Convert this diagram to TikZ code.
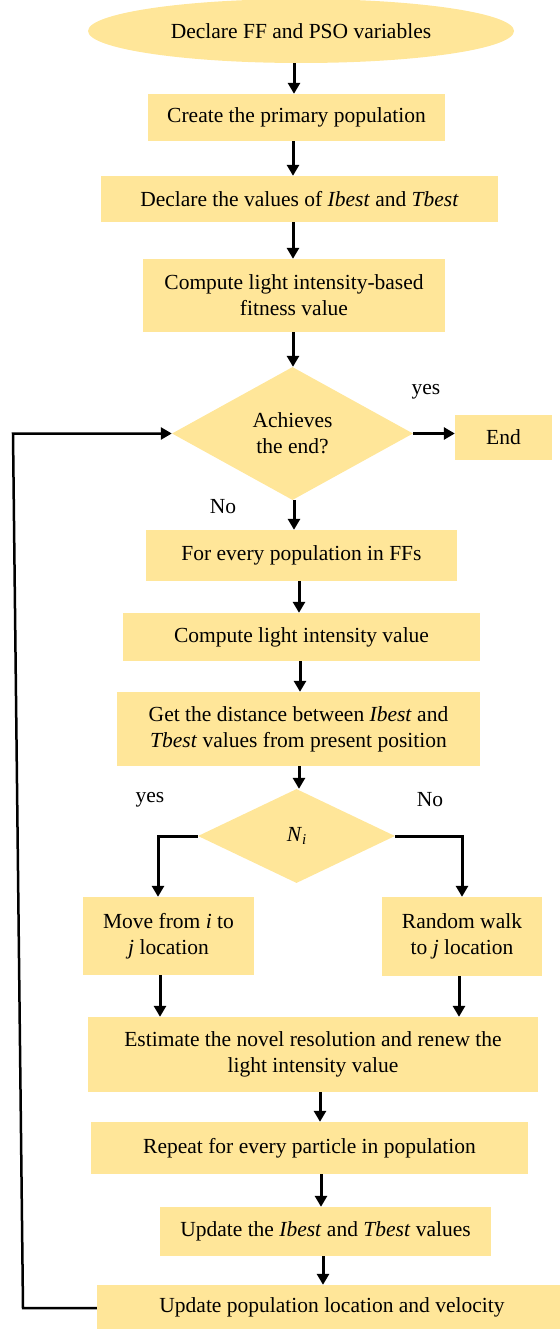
\documentclass[tikz,border=0pt]{standalone}
\usepackage{fontspec}
\setmainfont{Liberation Serif}
\usetikzlibrary{shapes.geometric,arrows.meta}
\definecolor{boxfill}{HTML}{FFE699}
\begin{document}
\begin{tikzpicture}[x=1pt,y=-1pt,
  every node/.style={font=\fontsize{21.5}{26}\selectfont, text=black},
  box/.style={rectangle, fill=boxfill, inner sep=0pt, align=center},
  ell/.style={ellipse, fill=boxfill, inner sep=0pt, align=center},
  dia/.style={diamond, fill=boxfill, inner sep=0pt, align=center, shape aspect=1.8},
  arr/.style={line width=3pt, -{Triangle[length=11pt,width=12pt]}},
  loopline/.style={line width=2.5pt, -{Triangle[length=11pt,width=12pt]}},
  lbl/.style={inner sep=0pt}]
\useasboundingbox (0,0) rectangle (559,1329);

\node[ell, minimum width=426pt, minimum height=64pt] (start) at (301,31) {Declare FF and PSO variables};
\node[box, minimum width=297pt, minimum height=47pt] (create) at (296.5,117.5) {Create the primary population};
\node[box, minimum width=397pt, minimum height=46pt] (declare) at (299.5,199) {Declare the values of \textit{Ibest} and \textit{Tbest}};
\node[box, minimum width=302pt, minimum height=73pt] (comp1) at (294,295.5) {Compute light intensity-based\\fitness value};
\node[dia, minimum width=241pt, minimum height=133pt] (dec1) at (292.5,433.5) {Achieves\\the end?};
\node[box, minimum width=97pt, minimum height=45pt] (end) at (503.5,437.5) {End};
\node[box, minimum width=311pt, minimum height=51pt] (every) at (301.5,555.5) {For every population in FFs};
\node[box, minimum width=357pt, minimum height=48pt] (comp2) at (301.5,637) {Compute light intensity value};
\node[box, minimum width=363pt, minimum height=74pt] (dist) at (298.5,729) {Get the distance between \textit{Ibest} and\\\textit{Tbest} values from present position};
\node[dia, minimum width=197pt, minimum height=94pt] (dec2) at (296.5,836) {\textit{N}\raisebox{-0.35ex}{\fontsize{15}{15}\selectfont\textit{i}}};
\node[box, minimum width=171pt, minimum height=78pt] (move) at (168.5,936) {Move from \textit{i} to\\\textit{j} location};
\node[box, minimum width=160pt, minimum height=79pt] (rand) at (462,936.5) {Random walk\\to \textit{j} location};
\node[box, minimum width=450pt, minimum height=75pt] (est) at (313,1054.5) {Estimate the novel resolution and renew the\\light intensity value};
\node[box, minimum width=437pt, minimum height=52pt] (rep) at (309.5,1148) {Repeat for every particle in population};
\node[box, minimum width=331pt, minimum height=49pt] (upd1) at (325.5,1231.5) {Update the \textit{Ibest} and \textit{Tbest} values};
\node[box, minimum width=472pt, minimum height=80pt] (upd2) at (333,1325) {};
\node[lbl] (upd2t) at (332,1307) {Update population location and velocity};

\node[lbl] (yes1) at (426,392) {yes};
\node[lbl] (no1) at (223,507) {No};
\node[lbl] (yes2) at (150,800) {yes};
\node[lbl] (no2) at (430,800) {No};

\draw[arr] (start.south -| 294,0) -- (create.north -| 294,0);
\draw[arr] (create.south -| 293,0) -- (declare.north -| 293,0);
\draw[arr] (declare.south -| 293,0) -- (comp1.north -| 293,0);
\draw[arr] (comp1.south -| 293,0) -- (dec1.north -| 293,0);
\draw[arr] (dec1.east) -- (dec1.east -| end.west);
\draw[arr] (dec1.south -| 294,0) -- (every.north -| 294,0);
\draw[arr] (every.south -| 299,0) -- (comp2.north -| 299,0);
\draw[arr] (comp2.south -| 300,0) -- (dist.north -| 300,0);
\draw[arr] (dist.south -| 299,0) -- (dec2.north -| 299,0);
\draw[arr] (dec2.west) -| (move.north -| 158,0);
\draw[arr] (dec2.east) -| (rand.north);
\draw[arr] (move.south -| 160,0) -- (est.north -| 160,0);
\draw[arr] (rand.south -| 459,0) -- (est.north -| 459,0);
\draw[arr] (est.south -| 320,0) -- (rep.north -| 320,0);
\draw[arr] (rep.south -| 321,0) -- (upd1.north -| 321,0);
\draw[arr] (upd1.south -| 323,0) -- (upd2.north -| 323,0);

\coordinate (lb) at (23,1308);
\coordinate (lt) at (13,433.5);
\draw[loopline] (upd2.west |- lb) -- (lb) -- (lt) -- (dec1.west);
\end{tikzpicture}
\end{document}
